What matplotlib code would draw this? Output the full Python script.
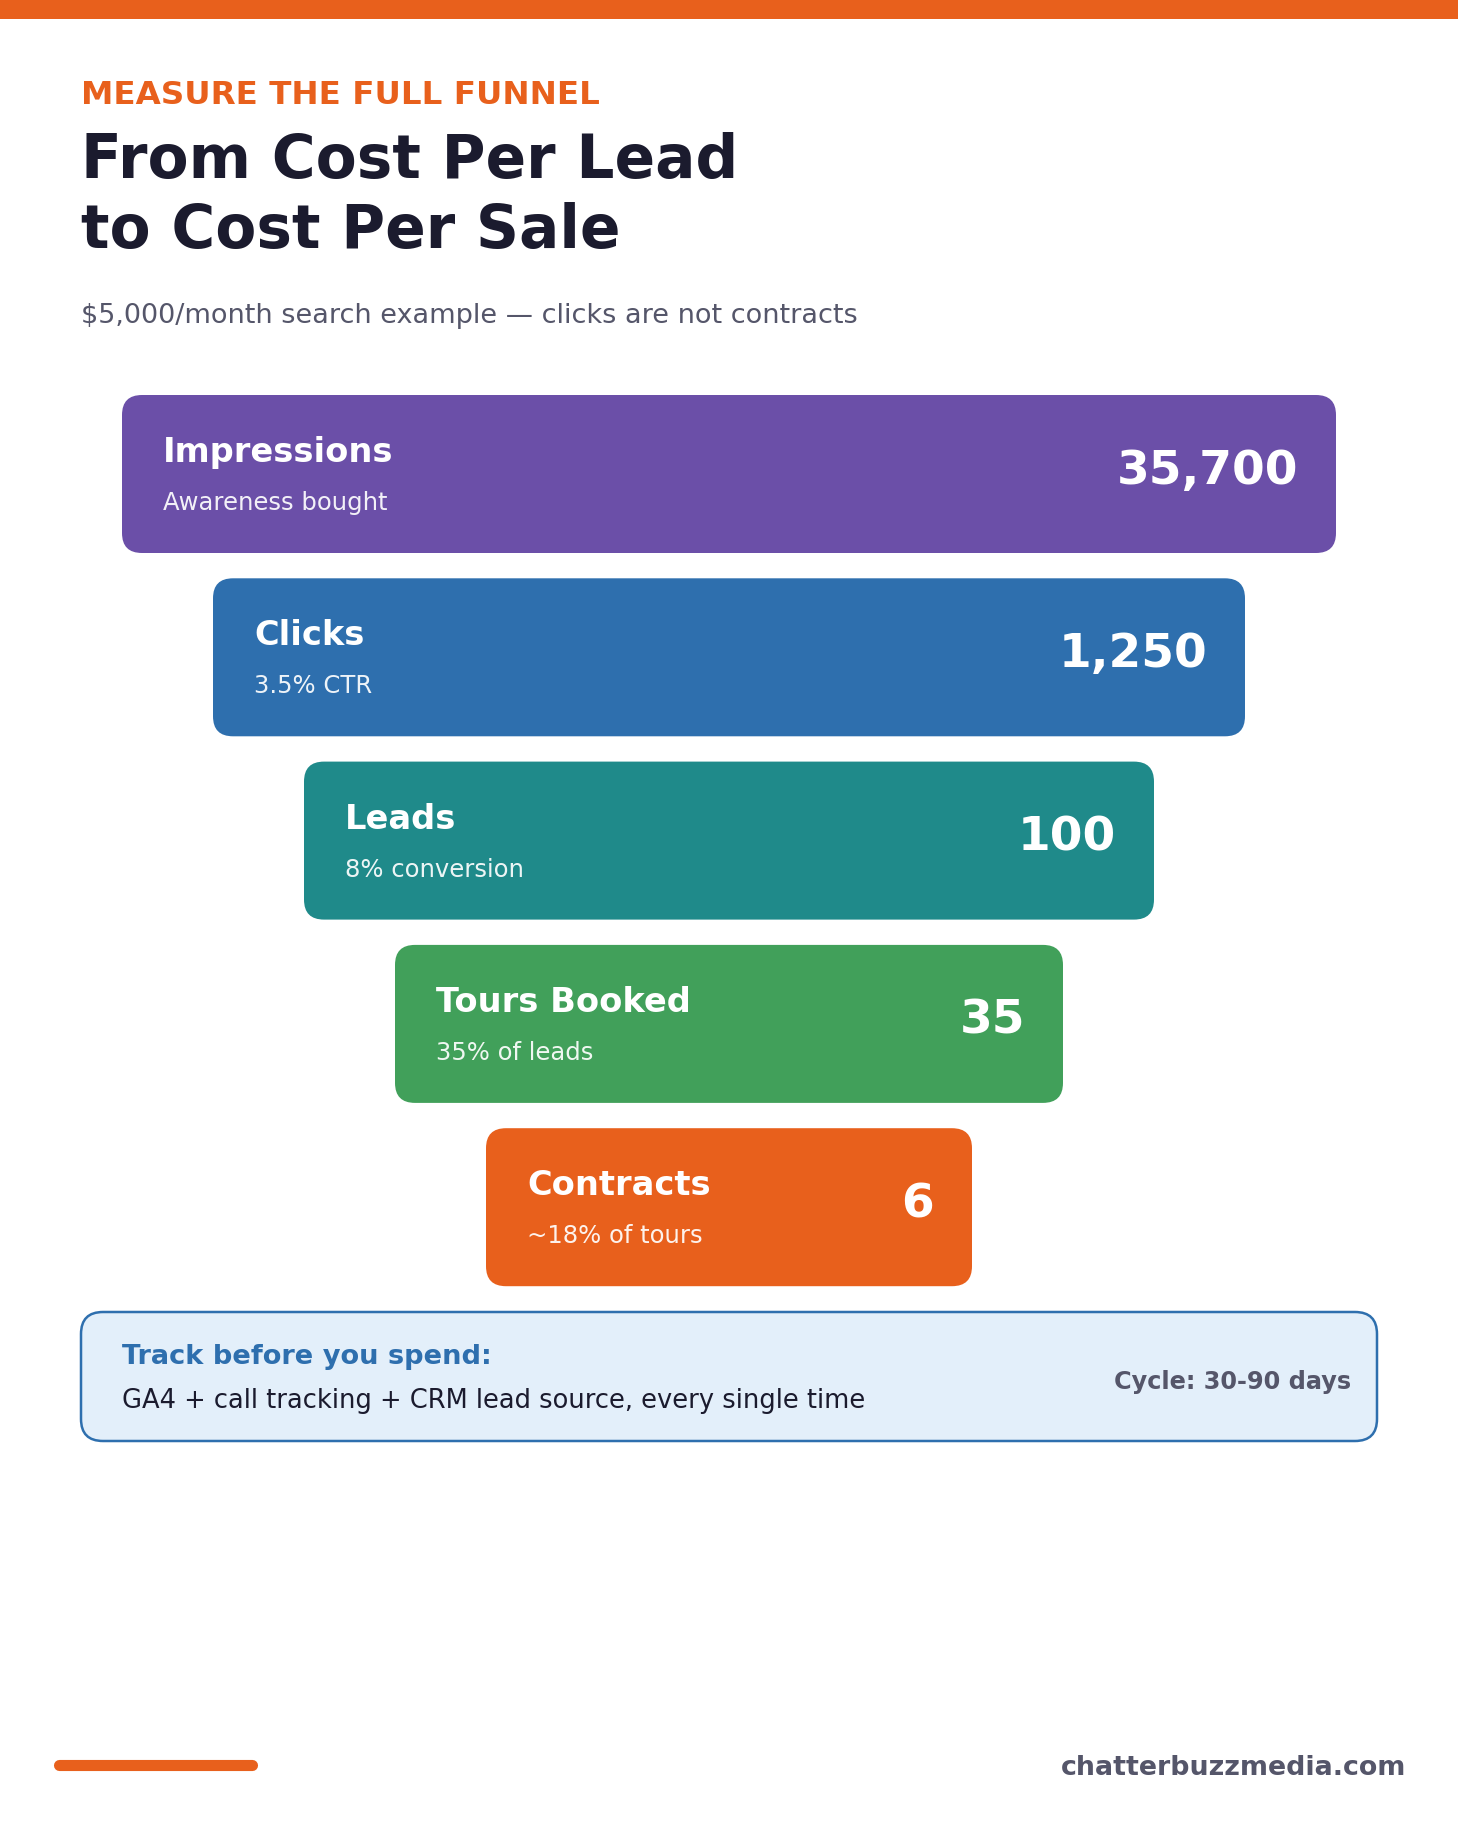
import matplotlib
matplotlib.use("Agg")
import matplotlib.pyplot as plt
from matplotlib.patches import FancyBboxPatch, Rectangle

# funnel data
stages = ["Impressions", "Clicks", "Leads", "Tours Booked", "Contracts"]
values = [35700, 1250, 100, 35, 6]
notes = ["Awareness bought", "3.5% CTR", "8% conversion", "35% of leads", "~18% of tours"]
colors = ["#6b4fa8", "#2e6fae", "#1f8a8a", "#41a05a", "#e8601c"]

W, H = 1458, 1822
ORANGE = "#e8601c"
DARK = "#1b1b2e"
GRAY = "#55566a"

fig = plt.figure(figsize=(W / 100, H / 100), dpi=100)
ax = fig.add_axes([0, 0, 1, 1])
ax.set_xlim(0, W)
ax.set_ylim(H, 0)
ax.axis("off")

# top strip
ax.add_patch(Rectangle((0, 0), W, 18.5, color=ORANGE, lw=0))

# header
ax.text(81, 104, "MEASURE THE FULL FUNNEL", fontsize=23.4, fontweight="bold",
        color=ORANGE, va="baseline")
ax.text(81, 178, "From Cost Per Lead", fontsize=43, fontweight="bold",
        color=DARK, va="baseline")
ax.text(81, 248, "to Cost Per Sale", fontsize=43, fontweight="bold",
        color=DARK, va="baseline")
ax.text(81, 323, "$5,000/month search example \u2014 clicks are not contracts",
        fontsize=19.5, color=GRAY, va="baseline")

# funnel bars
top0 = 395
pitch = 183.3
bar_h = 158
full_w = 1214
step = 182
for i, (name, val, note, c) in enumerate(zip(stages, values, notes, colors)):
    w = full_w - step * i
    x0 = (W - w) / 2
    y0 = top0 + pitch * i
    ax.add_patch(FancyBboxPatch((x0, y0), w, bar_h,
                                boxstyle="round,pad=0,rounding_size=20",
                                fc=c, ec="none"))
    ax.text(x0 + 41, y0 + 67, name, fontsize=24.2, fontweight="bold",
            color="white", va="baseline")
    ax.text(x0 + 41, y0 + 115, note, fontsize=17.5, color="white",
            alpha=0.92, va="baseline")
    ax.text(x0 + w - 38, y0 + 89, f"{val:,}", fontsize=33.8, fontweight="bold",
            color="white", va="baseline", ha="right")

# tracking note box
ax.add_patch(FancyBboxPatch((81, 1312), 1296, 129,
                            boxstyle="round,pad=0,rounding_size=22",
                            fc="#e3effa", ec="#2e6fae", lw=1.8))
ax.text(122, 1364, "Track before you spend:", fontsize=19.6, fontweight="bold",
        color="#2e6fae", va="baseline")
ax.text(122, 1408, "GA4 + call tracking + CRM lead source, every single time",
        fontsize=18.5, color=DARK, va="baseline")
ax.text(1351, 1389, "Cycle: 30-90 days", fontsize=17.3, fontweight="bold",
        color=GRAY, va="baseline", ha="right")

# footer
ax.plot([59, 252], [1765, 1765], color=ORANGE, lw=8, solid_capstyle="round")
ax.text(1406, 1775, "chatterbuzzmedia.com", fontsize=19.4, fontweight="bold",
        color=GRAY, va="baseline", ha="right")

fig.savefig("out.png", dpi=100, facecolor="white")
